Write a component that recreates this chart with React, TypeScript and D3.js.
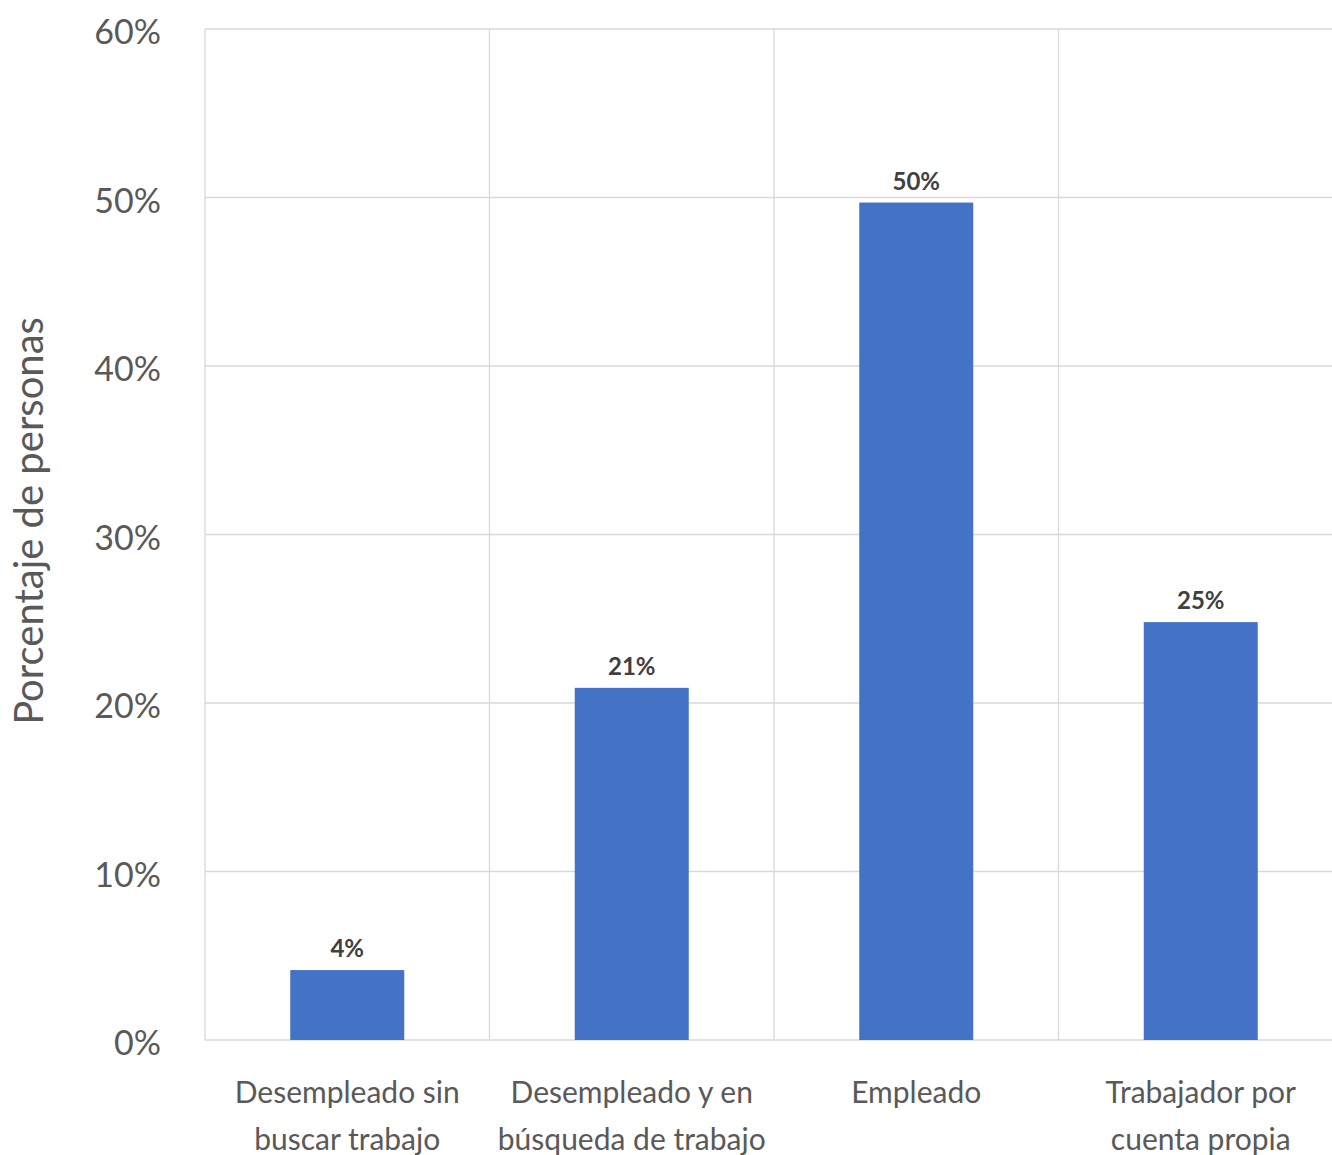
import React from "react";
import * as d3 from "d3";

const categories: string[][] = [
  ["Desempleado sin", "buscar trabajo"],
  ["Desempleado y en", "búsqueda de trabajo"],
  ["Empleado"],
  ["Trabajador por", "cuenta propia"],
];
const values: number[] = [4.15, 20.9, 49.7, 24.8];
const valueLabels: string[] = ["4%", "21%", "50%", "25%"];
const yTicks: number[] = [0, 10, 20, 30, 40, 50, 60];
const yTitle = "Porcentaje de personas";

const W = 1332;
const H = 1155;
const left = 205;
const top = 29;
const bottom = 1040;
const bandW = 284.5;
const FONT = "Lato, 'Open Sans', sans-serif";

export default function App() {
  const x = d3
    .scaleBand<number>()
    .domain(d3.range(categories.length))
    .range([left, left + bandW * categories.length])
    .paddingInner(0)
    .paddingOuter(0);
  const y = d3.scaleLinear().domain([0, 60]).range([bottom, top]);
  const barW = 114;

  return (
    <svg
      width={W}
      height={H}
      style={{ position: "absolute", left: 0, top: 0, background: "#fff" }}
      fontFamily={FONT}
    >
      {yTicks.map((t) => (
        <line
          key={"h" + t}
          x1={left}
          x2={W}
          y1={y(t)}
          y2={y(t)}
          stroke="#d9d9d9"
          strokeWidth={1.3}
        />
      ))}
      {d3.range(categories.length).map((i) => (
        <line
          key={"v" + i}
          x1={x(i)!}
          x2={x(i)!}
          y1={top}
          y2={bottom}
          stroke="#d9d9d9"
          strokeWidth={1.3}
        />
      ))}
      {yTicks.map((t) => (
        <text
          key={"t" + t}
          x={161}
          y={y(t) + 15}
          textAnchor="end"
          fontSize={34}
          fill="#595959"
        >
          {t + "%"}
        </text>
      ))}
      <text
        transform={`translate(43,${521}) rotate(-90)`}
        textAnchor="middle"
        fontSize={40}
        fill="#595959"
      >
        {yTitle}
      </text>
      {values.map((v, i) => {
        const cx = x(i)! + x.bandwidth() / 2;
        return (
          <g key={"b" + i}>
            <rect
              x={cx - barW / 2}
              y={y(v)}
              width={barW}
              height={y(0) - y(v)}
              fill="#4472c4"
            />
            <text
              x={cx}
              y={y(v) - 13}
              textAnchor="middle"
              fontSize={24}
              fontWeight="bold"
              fill="#404040"
            >
              {valueLabels[i]}
            </text>
          </g>
        );
      })}
      {categories.map((lines, i) => {
        const cx = x(i)! + x.bandwidth() / 2;
        return (
          <text key={"c" + i} textAnchor="middle" fontSize={30} fill="#595959">
            {lines.map((ln, j) => (
              <tspan key={j} x={cx} y={1103 + j * 47}>
                {ln}
              </tspan>
            ))}
          </text>
        );
      })}
    </svg>
  );
}
